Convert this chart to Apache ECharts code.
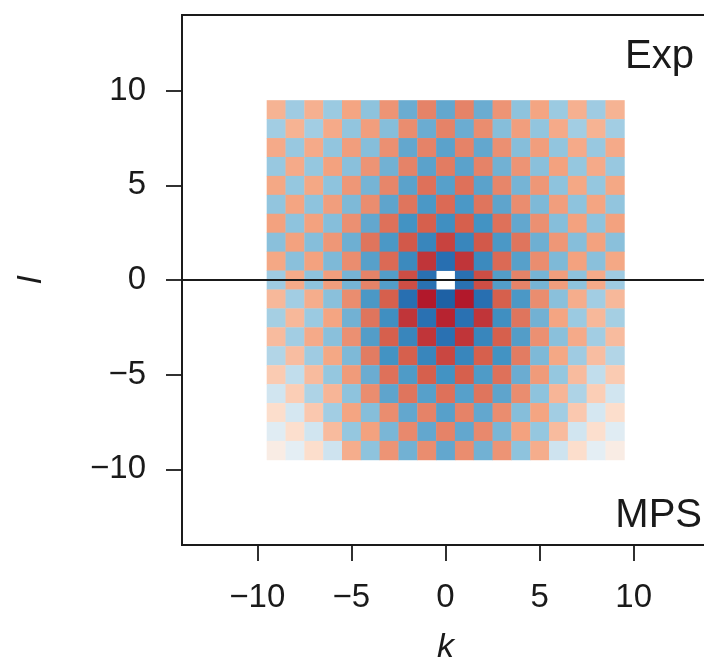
<!DOCTYPE html>
<html>
<head>
<meta charset="utf-8">
<script src="https://cdn.jsdelivr.net/npm/echarts@6/dist/echarts.min.js"></script>
<style>
html,body{margin:0;padding:0;background:#fff;}
#chart{width:704px;height:668px;}
</style>
</head>
<body>
<div id="chart"></div>
<script>
// k positions (columns) and l positions (rows)
const kValues = [-9,-8,-7,-6,-5,-4,-3,-2,-1,0,1,2,3,4,5,6,7,8,9];
const lValues = [9,8,7,6,5,4,3,2,1,0,-1,-2,-3,-4,-5,-6,-7,-8,-9];
const tickValues = [-10,-5,0,5,10];

// Upper half: Exp ; lower half: MPS (values per row, k = -9 .. 9)
const row_l9  = [0.35,-0.36,0.36,-0.37,0.40,-0.41,0.45,-0.50,0.50,-0.52,0.50,-0.50,0.45,-0.41,0.40,-0.37,0.36,-0.36,0.35];
const row_l8  = [-0.35,0.35,-0.35,0.38,-0.40,0.42,-0.43,0.47,-0.50,0.50,-0.50,0.47,-0.43,0.42,-0.40,0.38,-0.35,0.35,-0.35];
const row_l7  = [0.38,-0.38,0.38,-0.40,0.42,-0.43,0.46,-0.52,0.50,-0.54,0.50,-0.52,0.46,-0.43,0.42,-0.40,0.38,-0.38,0.38];
const row_l6  = [-0.38,0.38,-0.39,0.41,-0.42,0.45,-0.48,0.50,-0.54,0.52,-0.54,0.50,-0.48,0.45,-0.42,0.41,-0.39,0.38,-0.38];
const row_l5  = [0.39,-0.39,0.39,-0.41,0.44,-0.47,0.49,-0.54,0.55,-0.55,0.55,-0.54,0.49,-0.47,0.44,-0.41,0.39,-0.39,0.39];
const row_l4  = [-0.40,0.40,-0.41,0.42,-0.45,0.47,-0.53,0.54,-0.58,0.57,-0.58,0.54,-0.53,0.47,-0.45,0.42,-0.41,0.40,-0.40];
const row_l3  = [0.41,-0.41,0.41,-0.43,0.46,-0.52,0.55,-0.60,0.60,-0.62,0.60,-0.60,0.55,-0.52,0.46,-0.43,0.41,-0.41,0.41];
const row_l2  = [-0.42,0.41,-0.43,0.44,-0.49,0.54,-0.58,0.62,-0.66,0.68,-0.66,0.62,-0.58,0.54,-0.49,0.44,-0.43,0.41,-0.42];
const row_l1  = [0.39,-0.42,0.41,-0.45,0.47,-0.55,0.57,-0.64,0.72,-0.76,0.72,-0.64,0.57,-0.55,0.47,-0.45,0.41,-0.42,0.39];
const row_l0  = [-0.36,0.38,-0.41,0.42,-0.47,0.50,-0.56,0.65,-0.75,null,-0.75,0.65,-0.56,0.50,-0.47,0.42,-0.41,0.38,-0.36];
const row_lm1 = [0.33,-0.35,0.37,-0.42,0.47,-0.58,0.60,-0.76,0.80,-0.82,0.80,-0.76,0.60,-0.58,0.47,-0.42,0.37,-0.35,0.33];
const row_lm2 = [-0.34,0.33,-0.37,0.40,-0.48,0.54,-0.62,0.72,-0.75,0.77,-0.75,0.72,-0.62,0.54,-0.48,0.40,-0.37,0.33,-0.34];
const row_lm3 = [0.32,-0.35,0.38,-0.42,0.46,-0.56,0.60,-0.66,0.72,-0.75,0.72,-0.66,0.60,-0.56,0.46,-0.42,0.38,-0.35,0.32];
const row_lm4 = [-0.30,0.31,-0.36,0.39,-0.45,0.52,-0.60,0.60,-0.66,0.67,-0.66,0.60,-0.60,0.52,-0.45,0.39,-0.36,0.31,-0.30];
const row_lm5 = [0.26,-0.25,0.32,-0.39,0.43,-0.50,0.55,-0.57,0.60,-0.60,0.60,-0.57,0.55,-0.50,0.43,-0.39,0.32,-0.25,0.26];
const row_lm6 = [-0.20,0.25,-0.31,0.34,-0.41,0.47,-0.53,0.54,-0.55,0.55,-0.55,0.54,-0.53,0.47,-0.41,0.34,-0.31,0.25,-0.20];
const row_lm7 = [0.18,-0.18,0.27,-0.35,0.40,-0.43,0.47,-0.52,0.50,-0.55,0.50,-0.52,0.47,-0.43,0.40,-0.35,0.27,-0.18,0.18];
const row_lm8 = [-0.12,0.17,-0.20,0.32,-0.39,0.41,-0.46,0.48,-0.52,0.50,-0.52,0.48,-0.46,0.41,-0.39,0.32,-0.20,0.17,-0.12];
const row_lm9 = [0.08,-0.10,0.18,-0.21,0.37,-0.41,0.45,-0.48,0.47,-0.52,0.47,-0.48,0.45,-0.41,0.37,-0.21,0.18,-0.10,0.08];

const rows = [row_l9,row_l8,row_l7,row_l6,row_l5,row_l4,row_l3,row_l2,row_l1,row_l0,
              row_lm1,row_lm2,row_lm3,row_lm4,row_lm5,row_lm6,row_lm7,row_lm8,row_lm9];

const cells = [];
lValues.forEach((l, i) => {
  kValues.forEach((k, j) => {
    const v = rows[i][j];
    cells.push([k, l, v === null ? '-' : v]);
  });
});

const fmt = v => String(v).replace('-', '\u2212');
const FONT = 'Liberation Sans, Arial, sans-serif';
const INK = '#1a1a1a';

const chart = echarts.init(document.getElementById('chart'), null, {renderer: 'canvas'});
chart.setOption({
  animation: false,
  backgroundColor: '#ffffff',
  grid: {left: 182, top: 15, width: 527, height: 530, containLabel: false, outerBoundsMode: 'none',
         show: true, borderColor: INK, borderWidth: 1.8, backgroundColor: 'transparent'},
  xAxis: {
    type: 'value', min: -14, max: 14,
    splitLine: {show: false},
    axisLine: {onZero: false, lineStyle: {color: INK, width: 1.8}},
    axisTick: {show: true, length: 16, customValues: tickValues, lineStyle: {color: INK, width: 1.8}},
    axisLabel: {customValues: tickValues, formatter: fmt, margin: 36, fontSize: 33, color: INK, fontFamily: FONT},
    name: 'k', nameLocation: 'middle', nameGap: 86,
    nameTextStyle: {fontSize: 34, fontStyle: 'italic', color: INK, fontFamily: FONT}
  },
  yAxis: {
    type: 'value', min: -14, max: 14,
    splitLine: {show: false},
    axisLine: {onZero: false, lineStyle: {color: INK, width: 1.8}},
    axisTick: {show: true, length: 16, customValues: tickValues, lineStyle: {color: INK, width: 1.8}},
    axisLabel: {customValues: tickValues, formatter: fmt, margin: 36, fontSize: 33, color: INK, fontFamily: FONT},
    name: 'l', nameLocation: 'middle', nameGap: 133, nameRotate: 90,
    nameTextStyle: {fontSize: 34, fontStyle: 'italic', color: INK, fontFamily: FONT}
  },
  visualMap: {
    type: 'continuous', show: false, min: -1, max: 1, dimension: 2, seriesIndex: 0,
    inRange: {color: ['#053061','#2166ac','#4393c3','#92c5de','#d1e5f0','#f7f7f7','#fddbc7','#f4a582','#d6604d','#b2182b','#67001f']}
  },
  series: [{
    type: 'custom',
    data: cells,
    encode: {x: 0, y: 1},
    renderItem: function (params, api) {
      const v = api.value(2);
      if (v === '-' || v == null || isNaN(v)) return null;
      const k = api.value(0), l = api.value(1);
      const p0 = api.coord([k - 0.5, l + 0.5]);
      const p1 = api.coord([k + 0.5, l - 0.5]);
      return {
        type: 'rect',
        shape: {x: p0[0], y: p0[1], width: p1[0] - p0[0] + 0.4, height: p1[1] - p0[1] + 0.4},
        style: {fill: api.visual('color')}
      };
    },
    markLine: {
      silent: true, symbol: ['none', 'none'],
      label: {show: false},
      lineStyle: {color: INK, width: 1.8, type: 'solid'},
      data: [{yAxis: 0}]
    },
    z: 2
  }],
  graphic: [
    {type: 'text', right: 10, top: 37, style: {text: 'Exp', fontSize: 40, fill: INK, fontFamily: FONT}},
    {type: 'text', right: 2, top: 496, style: {text: 'MPS', fontSize: 40, fill: INK, fontFamily: FONT}}
  ]
});
</script>
</body>
</html>
